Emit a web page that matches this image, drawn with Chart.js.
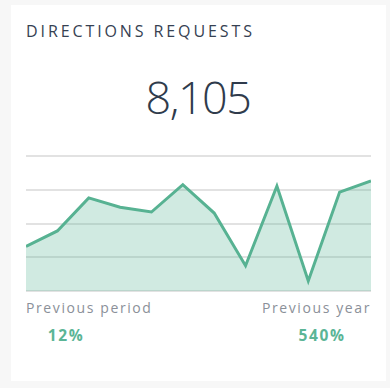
<!DOCTYPE html>
<html>
<head>
<meta charset="utf-8">
<script src="https://cdn.jsdelivr.net/npm/chart.js@4"></script>
<style>
  html, body { margin: 0; padding: 0; background: #f7f7f7; }
  body { width: 390px; height: 388px; position: relative; overflow: hidden; font-family: "Open Sans", sans-serif; }
  .card { position: absolute; left: 11px; top: 5px; width: 375px; height: 376px; background: #fff; }
  .title { position: absolute; left: 26px; top: 20px; font-size: 16px; letter-spacing: 2.9px; color: #364152; }
  .total { position: absolute; left: 0; width: 396px; top: 66px; text-align: center; font-size: 45px; font-weight: 300; letter-spacing: -1.5px; color: #2f3b4c; }
  .lbl { position: absolute; top: 298px; font-size: 14px; letter-spacing: 1.6px; color: #8b9099; }
  .pct { position: absolute; top: 324px; font-size: 15.5px; font-weight: 700; letter-spacing: 1.6px; color: #5bb596; text-align: center; }
  .chartBox { position: absolute; left: 26px; top: 155px; width: 345px; height: 137px; }
</style>
</head>
<body>
<div class="card"></div>
<div class="title">DIRECTIONS REQUESTS</div>
<div class="total">8,105</div>
<div class="chartBox"><canvas id="trendChart"></canvas></div>
<div class="lbl" style="left:26px">Previous period</div>
<div class="lbl" style="right:19px">Previous year</div>
<div class="pct" style="left:35px;width:62px">12%</div>
<div class="pct" style="left:291px;width:62px">540%</div>
<script>
const periods = ['1', '2', '3', '4', '5', '6', '7', '8', '9', '10', '11', '12']
const requests = [396, 534, 828, 744, 702, 945, 693, 225, 933, 90, 879, 978]
const yTicks = [0, 300, 600, 900, 1200]

function initTrendChart() {
  const canvas = document.getElementById('trendChart')
  if (!canvas) return

  const chartData = {
    labels: periods,
    datasets: [
      {
        data: requests,
        borderColor: '#57b292',
        borderWidth: 3,
        backgroundColor: 'rgba(87, 178, 146, 0.28)',
        fill: 'origin',
        pointRadius: 0,
        tension: 0,
      },
    ],
  }
  const chartOptions = {
    animation: false,
    responsive: true,
    maintainAspectRatio: false,
    layout: { padding: { top: 1, bottom: 1, left: 0, right: 0 } },
    scales: {
      x: { display: false, offset: false },
      y: {
        min: yTicks[0],
        max: yTicks[yTicks.length - 1],
        afterBuildTicks: (axis) => { axis.ticks = yTicks.map((v) => ({ value: v })) },
        ticks: { display: false },
        border: { display: false },
        grid: { color: '#e2e2e2', lineWidth: 2, drawTicks: false },
      },
    },
    plugins: { legend: { display: false }, tooltip: { enabled: false } },
  }

  window.trendChart = new Chart(canvas, {
    type: 'line',
    data: chartData,
    options: chartOptions,
  })
}

initTrendChart()
</script>
</body>
</html>
